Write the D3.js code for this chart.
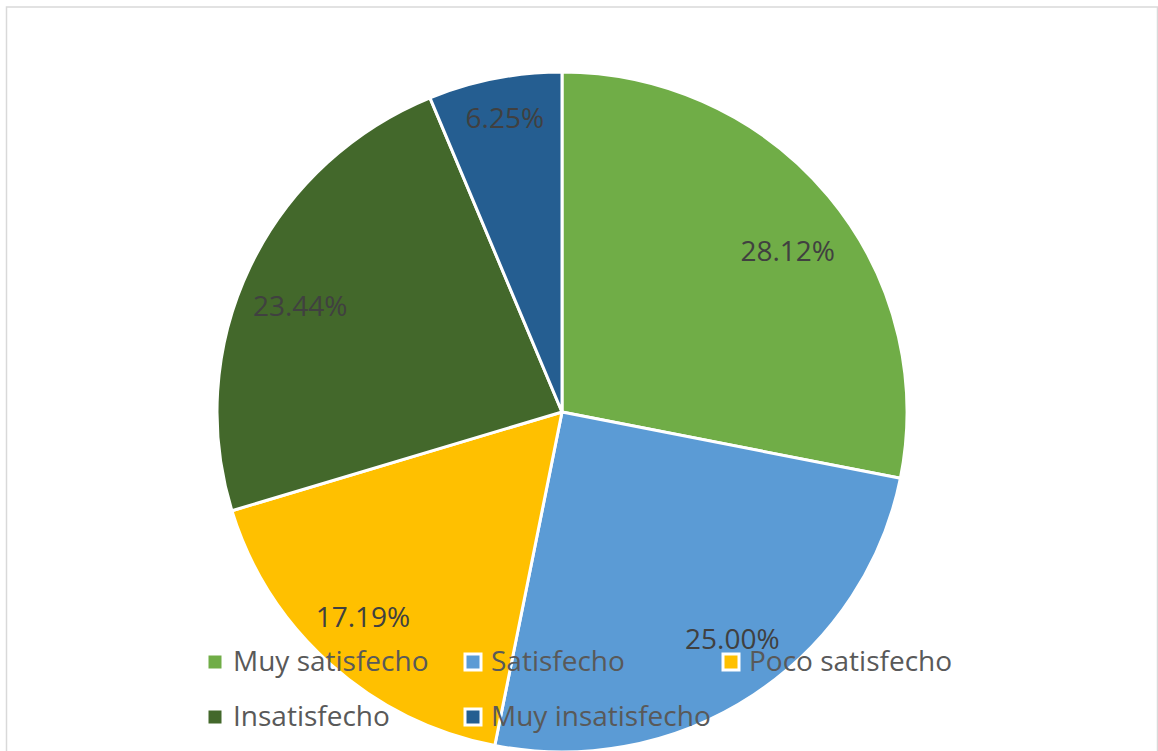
<!DOCTYPE html>
<html>
<head>
<meta charset="utf-8">
<script src="https://cdn.jsdelivr.net/npm/d3@7"></script>
<style>
  html, body { margin: 0; padding: 0; background: #ffffff; }
  svg { display: block; }
</style>
</head>
<body>
<svg id="chart" width="1158" height="751"></svg>
<script>
// Satisfaction survey: share of responses per category
const categories = ["Muy satisfecho", "Satisfecho", "Poco satisfecho", "Insatisfecho", "Muy insatisfecho"];
const shares = [28.12, 25.00, 17.19, 23.44, 6.25];
const labelTexts = ["28.12%", "25.00%", "17.19%", "23.44%", "6.25%"];
const colors = ["#70AD47", "#5B9BD5", "#FFC000", "#43682B", "#255E91"];

// layout
const W = 1158, H = 751;
const cx = 562, cy = 412;
const radius = 345, yScale = 0.9855;
const labelRadius = 283;
// best-fit offsets of the data labels from their slice centroids
const labelNudge = [[7, 16], [13, -5], [-9, -2], [-6, 13], [-2, -21]];
const fontFamily = "'Open Sans', 'DejaVu Sans', sans-serif";

const svg = d3.select("#chart");

// chart area frame
svg.append("rect")
  .attr("x", 6.5).attr("y", 7)
  .attr("width", 1151).attr("height", 780)
  .attr("fill", "#ffffff")
  .attr("stroke", "#d9d9d9")
  .attr("stroke-width", 1.5);

const data = categories.map((c, i) => ({ category: c, value: shares[i], label: labelTexts[i], color: colors[i] }));

const pie = d3.pie().value(d => d.value).sort(null);
const arcs = pie(data);
const arc = d3.arc().innerRadius(0).outerRadius(radius);

const g = svg.append("g")
  .attr("transform", `translate(${cx},${cy}) scale(1,${yScale})`);

g.selectAll("path.slice")
  .data(arcs)
  .join("path")
  .attr("class", "slice")
  .attr("d", arc)
  .attr("fill", d => d.data.color)
  .attr("stroke", "#ffffff")
  .attr("stroke-width", 3)
  .attr("stroke-linejoin", "round");

// data labels
const labelArc = d3.arc().innerRadius(labelRadius).outerRadius(labelRadius);
svg.selectAll("text.value")
  .data(arcs)
  .join("text")
  .attr("class", "value")
  .attr("x", (d, i) => cx + labelArc.centroid(d)[0] + labelNudge[i][0])
  .attr("y", (d, i) => cy + labelArc.centroid(d)[1] * yScale + labelNudge[i][1])
  .attr("dy", "0.36em")
  .attr("text-anchor", "middle")
  .attr("font-family", fontFamily)
  .attr("font-size", 28)
  .attr("fill", "#404040")
  .text(d => d.data.label);

// legend, laid out in rows of three
const legendCols = 3;
const legendX0 = 215, legendColStep = 258;
const legendY0 = 662, legendRowStep = 55;
const markerSize = 16;

const legend = svg.append("g").attr("class", "legend");
const items = legend.selectAll("g.item")
  .data(data)
  .join("g")
  .attr("class", "item")
  .attr("transform", (d, i) => {
    const col = i % legendCols, row = Math.floor(i / legendCols);
    return `translate(${legendX0 + col * legendColStep},${legendY0 + row * legendRowStep})`;
  });

items.append("rect")
  .attr("x", -markerSize / 2).attr("y", -markerSize / 2)
  .attr("width", markerSize).attr("height", markerSize)
  .attr("fill", d => d.color)
  .attr("stroke", "#ffffff")
  .attr("stroke-width", 3);

items.append("text")
  .attr("x", 18)
  .attr("y", 9)
  .attr("font-family", fontFamily)
  .attr("font-size", 28)
  .attr("fill", "#595959")
  .text(d => d.category);
</script>
</body>
</html>
